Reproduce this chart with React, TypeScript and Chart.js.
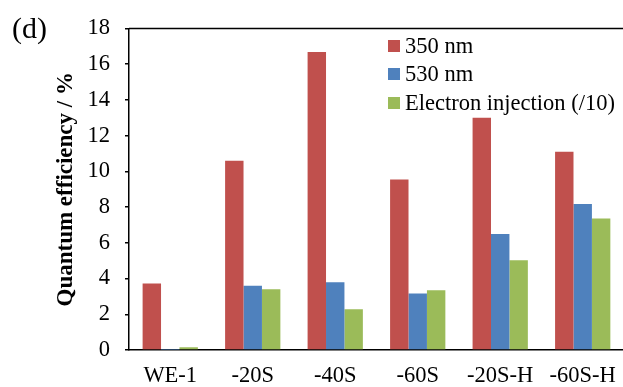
import React, { useEffect, useRef } from "react";
import { Chart, registerables } from "chart.js";

Chart.register(...registerables);

const categories = ["WE-1", "-20S", "-40S", "-60S", "-20S-H", "-60S-H"];
const seriesNames = ["350 nm", "530 nm", "Electron injection (/10)"];
const qe350 = [3.72, 10.59, 16.68, 9.55, 13.0, 11.1];
const qe530 = [0.02, 3.6, 3.79, 3.16, 6.5, 8.18];
const electronInjection = [0.15, 3.4, 2.28, 3.34, 5.02, 7.36];
const seriesColors = ["#C0504D", "#4F81BD", "#9BBB59"];
const yTicks = [0, 2, 4, 6, 8, 10, 12, 14, 16, 18];

const FONT = "'Liberation Serif', 'Times New Roman', serif";

export default function App() {
  const canvasRef = useRef<HTMLCanvasElement | null>(null);

  useEffect(() => {
    if (!canvasRef.current) return;
    const topBorder = {
      id: "topBorder",
      afterDraw(chart: any) {
        const { ctx, chartArea } = chart;
        ctx.save();
        ctx.strokeStyle = "#000";
        ctx.lineWidth = 1.5;
        ctx.beginPath();
        ctx.moveTo(chartArea.left, chartArea.top);
        ctx.lineTo(chartArea.right, chartArea.top);
        ctx.stroke();
        ctx.restore();
      },
    };
    const values = [qe350, qe530, electronInjection];
    const chart = new Chart(canvasRef.current, {
      type: "bar",
      data: {
        labels: categories,
        datasets: seriesNames.map((name, i) => ({
          label: name,
          data: values[i],
          backgroundColor: seriesColors[i],
          borderWidth: 0,
          categoryPercentage: 0.67,
          barPercentage: 1.0,
        })),
      },
      options: {
        responsive: false,
        animation: false,
        layout: { padding: { top: 27, right: 2, left: 0, bottom: 0 } },
        plugins: {
          legend: { display: false },
          tooltip: { enabled: false },
        },
        scales: {
          x: {
            afterFit(scale: any) {
              scale.height = 37;
            },
            grid: { display: false, drawTicks: false },
            border: { display: true, color: "#000", width: 1.5 },
            ticks: {
              color: "#000",
              font: { family: FONT, size: 22.5 },
              padding: 13,
              maxRotation: 0,
            },
          },
          y: {
            min: 0,
            max: 18,
            afterFit(scale: any) {
              scale.width = 129;
            },
            afterBuildTicks(scale: any) {
              scale.ticks = yTicks.map((v) => ({ value: v }));
            },
            grid: {
              drawOnChartArea: false,
              drawTicks: true,
              tickLength: 4,
              color: "#000",
              lineWidth: 1.5,
            },
            border: { display: true, color: "#000", width: 1.5 },
            ticks: {
              color: "#000",
              font: { family: FONT, size: 22.5 },
              padding: 15,
            },
            title: {
              display: true,
              text: "Quantum efficiency / %",
              color: "#000",
              font: { family: FONT, size: 23, weight: "bold" },
              padding: { top: 52, bottom: 0 },
            },
          },
        },
      },
      plugins: [topBorder],
    });
    return () => chart.destroy();
  }, []);

  return (
    <div
      style={{
        position: "absolute",
        left: 0,
        top: 0,
        width: 623,
        height: 387,
        overflow: "hidden",
        background: "#fff",
      }}
    >
      <canvas ref={canvasRef} width={629} height={387} style={{ display: "block" }} />
      <div
        style={{
          position: "absolute",
          left: 12,
          top: 13,
          fontFamily: FONT,
          fontSize: 30,
          lineHeight: 1,
          color: "#000",
        }}
      >
        (d)
      </div>
      {seriesNames.map((name, i) => (
        <div
          key={name}
          style={{
            position: "absolute",
            left: 388,
            top: 33 + i * 28.3,
            height: 26,
            display: "flex",
            alignItems: "center",
            fontFamily: FONT,
            fontSize: 22.5,
            color: "#000",
            whiteSpace: "nowrap",
          }}
        >
          <span
            style={{
              display: "inline-block",
              width: 12,
              height: 12,
              background: seriesColors[i],
              marginRight: 5,
            }}
          />
          <span>{name}</span>
        </div>
      ))}
    </div>
  );
}
